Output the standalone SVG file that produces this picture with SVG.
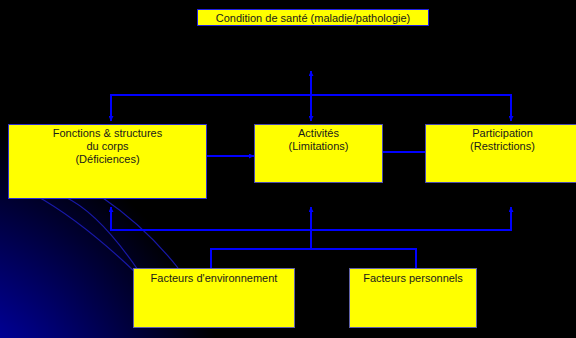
<svg xmlns="http://www.w3.org/2000/svg" width="576" height="338" viewBox="0 0 576 338">
<style>
.box{fill:#ffff00;stroke:#4a4ab0;stroke-width:1}
.t{font-family:"Liberation Sans",Arial,sans-serif;font-size:11px;fill:#1a1a1a;text-anchor:middle}
.c{stroke:#0000ff;stroke-width:2;fill:none}
.arc{stroke:#1818a8;stroke-width:1.2;fill:none}
</style>
<defs>
<radialGradient id="bg" gradientUnits="userSpaceOnUse" cx="-80" cy="430" r="310">
<stop offset="0.3" stop-color="#0000aa"/>
<stop offset="1" stop-color="#000000"/>
</radialGradient>
<marker id="ah" viewBox="0 0 10 10" refX="10" refY="5" markerWidth="5" markerHeight="5" markerUnits="userSpaceOnUse" orient="auto-start-reverse">
<path d="M0,0 L10,5 L0,10 z" fill="#0000ff"/>
</marker>
</defs>
<rect width="576" height="338" fill="#000"/>
<rect width="576" height="338" fill="url(#bg)"/>
<g id="background-arcs">
<path class="arc" d="M35,195 Q81,220.5 135,272"/>
<path class="arc" d="M65,197 Q98.5,212.5 138,270"/>
<path class="arc" d="M103,198 Q145.5,227 178,268"/>
</g>
<g id="connectors">
<line class="c" x1="111" y1="95" x2="511" y2="95"/>
<line class="c" x1="111" y1="94" x2="111" y2="121" marker-end="url(#ah)"/>
<line class="c" x1="511" y1="94" x2="511" y2="121" marker-end="url(#ah)"/>
<line class="c" x1="311" y1="71" x2="311" y2="121" marker-start="url(#ah)" marker-end="url(#ah)"/>
<line class="c" x1="207" y1="156" x2="254" y2="156" marker-end="url(#ah)"/>
<line class="c" x1="382" y1="152" x2="425" y2="152"/>
<line class="c" x1="110" y1="230" x2="512" y2="230"/>
<line class="c" x1="111" y1="231" x2="111" y2="207" marker-end="url(#ah)"/>
<line class="c" x1="511" y1="231" x2="511" y2="207" marker-end="url(#ah)"/>
<line class="c" x1="311" y1="249" x2="311" y2="207" marker-end="url(#ah)"/>
<polyline class="c" points="211,268 211,249 416,249 416,268"/>
</g>
<g id="condition">
<rect class="box" x="197.5" y="9.5" width="231" height="16" style="stroke:#2020e0"/>
<text class="t" x="313" y="22">Condition de santé (maladie/pathologie)</text>
</g>
<g id="fonctions">
<rect class="box" x="8.5" y="124.5" width="198" height="74" style="stroke:#3030d0"/>
<text class="t" x="107.5" y="136.5">Fonctions &amp; structures</text>
<text class="t" x="107.5" y="149.5">du corps</text>
<text class="t" x="107.5" y="162.5">(Déficiences)</text>
</g>
<g id="activites">
<rect class="box" x="254.5" y="124.5" width="128" height="58"/>
<text class="t" x="318.5" y="136.5">Activités</text>
<text class="t" x="318.5" y="150">(Limitations)</text>
</g>
<g id="participation">
<rect class="box" x="425.5" y="124.5" width="155" height="58"/>
<text class="t" x="502.5" y="136.5">Participation</text>
<text class="t" x="502.5" y="150">(Restrictions)</text>
</g>
<g id="environnement">
<rect class="box" x="133.5" y="268.5" width="161" height="59" style="stroke:#6060a8"/>
<text class="t" x="214" y="282">Facteurs d'environnement</text>
</g>
<g id="personnels">
<rect class="box" x="349.5" y="268.5" width="127" height="59" style="stroke:#6060a8"/>
<text class="t" x="413" y="282">Facteurs personnels</text>
</g>
</svg>
